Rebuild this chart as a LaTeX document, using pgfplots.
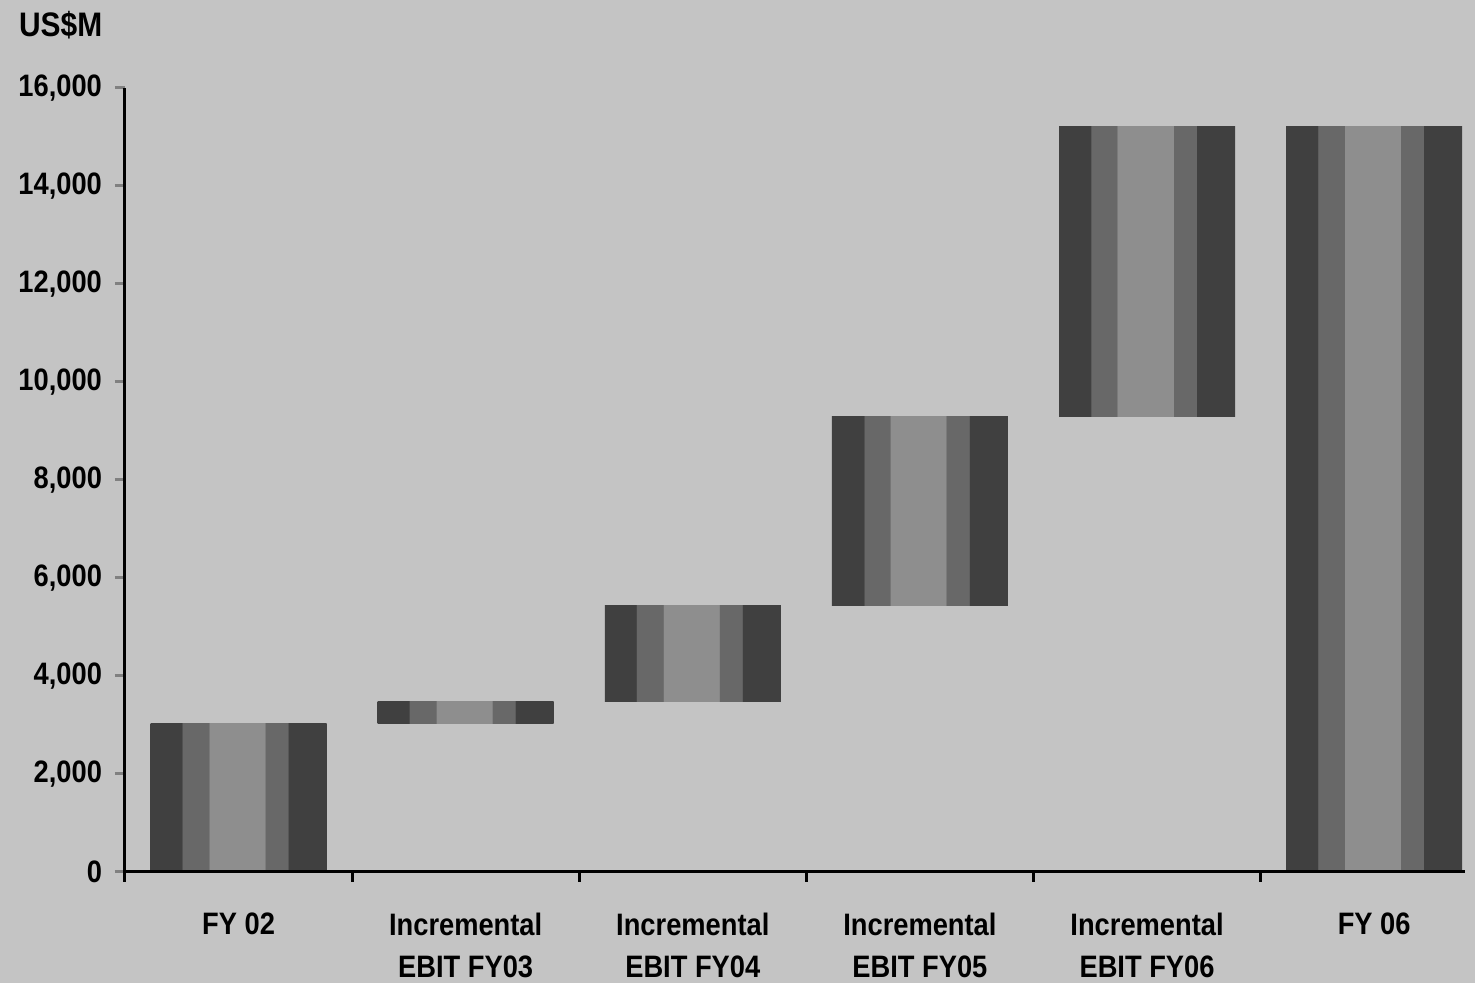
\documentclass[border=0pt]{standalone}
\usepackage{pgfplots}
\pgfplotsset{compat=1.18}
\usepackage{fontspec}
\setmainfont[FakeStretch=0.88]{Liberation Sans}
\definecolor{bgc}{HTML}{C4C4C4}
\definecolor{bdark}{HTML}{404040}
\definecolor{bmid}{HTML}{686868}
\definecolor{blight}{HTML}{8E8E8E}
\pgfdeclarehorizontalshading{barshade}{100bp}{color(0bp)=(bdark); color(34bp)=(bdark); color(34.01bp)=(bmid); color(41.5bp)=(bmid); color(41.51bp)=(blight); color(57.5bp)=(blight); color(57.51bp)=(bmid); color(64bp)=(bmid); color(64.01bp)=(bdark); color(100bp)=(bdark)}
\pgfplotsset{wfbar/.style={draw=none, shading=barshade, mark=none}}
\begin{document}
\begin{tikzpicture}
\fill[bgc] (0,0) rectangle (737.5pt,491.5pt);
\begin{axis}[
  at={(62.5pt,55.5pt)}, anchor=south west, scale only axis,
  width=670pt, height=392pt,
  xmin=-0.5, xmax=5.4, ymin=0, ymax=16000,
  separate axis lines, axis x line*=bottom, axis y line*=left,
  axis line style={line width=1.5pt},
  axis on top,
  xtick={0,...,5},
  xticklabels={FY 02,Incremental\\EBIT FY03,Incremental\\EBIT FY04,Incremental\\EBIT FY05,Incremental\\EBIT FY06,FY 06},
  xtick style={draw=none},
  extra x ticks={-0.5,0.5,1.5,2.5,3.5,4.5},
  extra x tick labels={},
  extra x tick style={xtick style={draw=black,line width=1.5pt}, major tick length=5pt, tick align=outside},
  ytick={0,2000,...,16000},
  ytick style={line width=1.5pt},
  tick align=outside, major tick length=5pt,
  scaled y ticks=false,
  /pgf/number format/.cd, 1000 sep={,}, assume math mode=true,
  /pgfplots/.cd,
  tick label style={font=\fontsize{15.5}{21}\selectfont\bfseries},
  xticklabel style={align=center, anchor=north, yshift=-12pt},
  yticklabel style={anchor=east, xshift=-3pt},
]
% FY 02: 0 -> 3040
\addplot[wfbar] coordinates {(-0.3875,0) (0.3875,0) (0.3875,3040) (-0.3875,3040)} -- cycle;
% Incremental EBIT FY03: 3040 -> 3470
\addplot[wfbar] coordinates {(0.6125,3040) (1.3875,3040) (1.3875,3470) (0.6125,3470)} -- cycle;
% Incremental EBIT FY04: 3470 -> 5430
\addplot[wfbar] coordinates {(1.6125,3470) (2.3875,3470) (2.3875,5430) (1.6125,5430)} -- cycle;
% Incremental EBIT FY05: 5430 -> 9290
\addplot[wfbar] coordinates {(2.6125,5430) (3.3875,5430) (3.3875,9290) (2.6125,9290)} -- cycle;
% Incremental EBIT FY06: 9290 -> 15220
\addplot[wfbar] coordinates {(3.6125,9290) (4.3875,9290) (4.3875,15220) (3.6125,15220)} -- cycle;
% FY 06: 0 -> 15220
\addplot[wfbar] coordinates {(4.6125,0) (5.3875,0) (5.3875,15220) (4.6125,15220)} -- cycle;
\end{axis}
\node[anchor=base west, font=\fontsize{17}{20}\selectfont\bfseries] at (6pt,473pt) {US\$M};
\pgfresetboundingbox
\path[use as bounding box] (0,0) rectangle (737.5pt,491.5pt);
\end{tikzpicture}
\end{document}
